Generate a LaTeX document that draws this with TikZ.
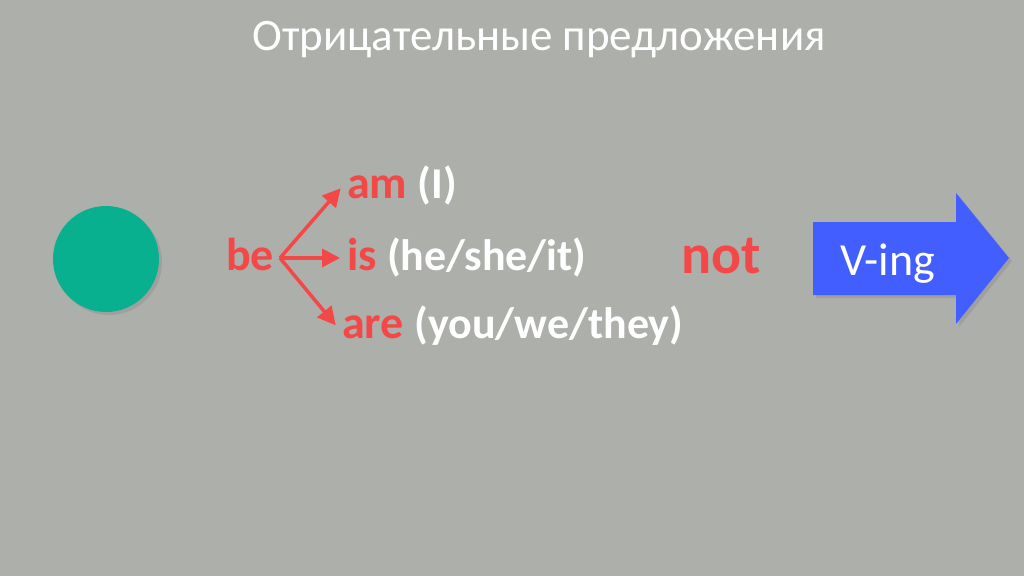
\documentclass[tikz,border=0pt]{standalone}
\usepackage{fontspec}
\setmainfont{Carlito}
\usepackage{tikz}
\usetikzlibrary{arrows.meta,shadows}
\definecolor{slidegray}{RGB}{173,175,171}
\definecolor{bered}{RGB}{243,72,72}
\definecolor{dotgreen}{RGB}{8,176,143}
\definecolor{vingblue}{RGB}{66,94,255}

\begin{document}
\begin{tikzpicture}[x=1pt, y=-1pt,
  verb/.style={text=bered, font=\fontsize{46}{50}\selectfont\bfseries, inner sep=5pt},
  who/.style={text=white, font=\fontsize{44}{48}\selectfont\bfseries, inner sep=5pt},
  fork/.style={draw=bered, line width=3.5pt, -{Triangle[length=18pt,width=18pt]}, shorten >=2pt},
  soft/.style={drop shadow={opacity=0.3, shadow xshift=3pt, shadow yshift=-3pt}}]
  \fill[slidegray] (0,0) rectangle (1024,576);
  \node[text=white, font=\fontsize{45}{50}\selectfont, anchor=base] (title) at (539,50) {Отрицательные предложения};

  \node[circle, fill=dotgreen, minimum size=106pt, soft] (dot) at (106,259) {};

\node[verb, anchor=base west] (be) at (221,270) {be};
\coordinate (split) at (280,258);
\node[verb, anchor=base west] (am) at (342,198) {am};
\node[who, anchor=base west] (amwho) at (am.base east) {(I)};
\node[verb, anchor=base west] (is) at (342,270) {is};
\node[who, anchor=base west] (iswho) at (is.base east) {(he/she/it)};
\node[verb, anchor=base west] (are) at (337,338) {are};
\node[who, anchor=base west] (arewho) at (are.base east) {(you/we/they)};

\draw[fork] (split) -- (am.west);
\draw[fork] (split) -- (split -| is.west);
\draw[fork] (split) -- (are.west);

  \node[text=bered, font=\fontsize{56}{60}\selectfont\bfseries, anchor=base] (neg) at (721,273) {not};

  \fill[vingblue, soft] (813,222) -- (956,222) -- (956,193) -- (1009,258) -- (956,324) -- (956,295) -- (813,295) -- cycle;
  \node[text=white, font=\fontsize{46}{50}\selectfont, anchor=base] (ving) at (888,275) {V-ing};
\end{tikzpicture}
\end{document}
